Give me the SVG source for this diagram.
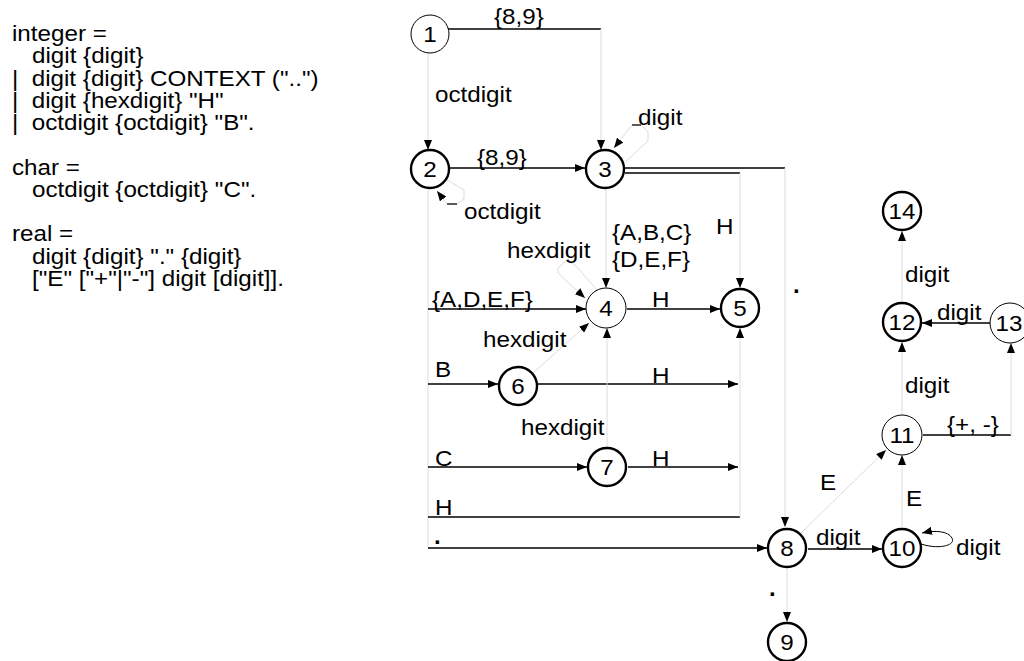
<svg xmlns="http://www.w3.org/2000/svg" width="1024" height="661" viewBox="0 0 1024 661">
<style>
text { font-family: "Liberation Sans", Arial, sans-serif; font-size: 22px; fill: #000; }
.c { text-anchor: middle; }
.dot { font-weight: bold; font-size: 24px; }
.n { fill: #fff; stroke: #000; stroke-width: 1; }
.k { stroke-width: 2.4; }
.d { fill: none; stroke: #000; stroke-width: 1.3; }
.l { fill: none; stroke: #dcdcdc; stroke-width: 1; }
.a { marker-end: url(#ah); }
</style>
<defs>
<marker id="ah" markerUnits="userSpaceOnUse" markerWidth="10" markerHeight="8" refX="10" refY="4" orient="auto">
<path d="M0,0 L10,4 L0,8 z" fill="#000"/>
</marker>
</defs>
<rect width="1024" height="661" fill="#fff"/>
<g id="grammar">
<text transform="translate(12,41) scale(1.1,1)">integer =</text>
<text transform="translate(32,63) scale(1.1,1)">digit {digit}</text>
<text xml:space="preserve" transform="translate(12,86) scale(1.1,1)">|  digit {digit} CONTEXT ("..")</text>
<text xml:space="preserve" transform="translate(12,108) scale(1.1,1)">|  digit {hexdigit} "H"</text>
<text xml:space="preserve" transform="translate(12,130) scale(1.1,1)">|  octdigit {octdigit} "B".</text>
<text transform="translate(12,175) scale(1.1,1)">char =</text>
<text transform="translate(32,197) scale(1.1,1)">octdigit {octdigit} "C".</text>
<text transform="translate(12,241) scale(1.1,1)">real =</text>
<text transform="translate(32,264) scale(1.1,1)">digit {digit} "." {digit}</text>
<text transform="translate(32,286) scale(1.1,1)">["E" ["+"|"-"] digit [digit]].</text>
</g>
<g id="connectors">
<path class="d" d="M448,29 H601"/>
<path class="l a" d="M601,29 V150"/>
<path class="l a" d="M428,53 V150"/>
<path class="d a" d="M450,168 H585"/>
<path class="l" d="M447,180 L464,190 V199 L457,204"/>
<path class="d" d="M457,204 H447"/>
<path class="l a" d="M447,204 L437,191"/>
<path class="l" d="M624,163 L648,141 V132 L641,125"/>
<path class="d" d="M641,125 H632"/>
<path class="l a" d="M632,125 L614,148"/>
<path class="d" d="M625,168 H785"/>
<path class="l a" d="M785,168 V527"/>
<path class="d" d="M625,173 H740"/>
<path class="l a" d="M740,173 V288"/>
<path class="l a" d="M606,189 V288"/>
<path class="l" d="M428,189 V548"/>
<path class="d a" d="M428,309 H586"/>
<path class="d a" d="M627,309 H720"/>
<path class="l a" d="M599,292 L575,265 L567,260 L558,268 V273 L585,298"/>
<path class="d a" d="M428,384 H498"/>
<path class="d a" d="M538,384 H738"/>
<path class="l a" d="M533,373 L589,323"/>
<path class="d a" d="M428,467 H587"/>
<path class="d a" d="M628,467 H738"/>
<path class="l a" d="M607,447 V328"/>
<path class="d" d="M428,517 H740"/>
<path class="l a" d="M740,517 V328"/>
<path class="d a" d="M428,548 H767"/>
<path class="d a" d="M808,549 H882"/>
<path class="l a" d="M787,569 V622"/>
<path class="l a" d="M801,533 L886,450"/>
<path class="l a" d="M902,527 V455"/>
<path class="d a" style="stroke-width:1" d="M921,544 C940,550 956,545 952,538 C948,531 935,530 922,533"/>
<path class="d" d="M923,435 H1011"/>
<path class="l a" d="M1011,435 V343"/>
<path class="l a" d="M902,414 V342"/>
<path class="d a" d="M991,323 H922"/>
<path class="l a" d="M902,301 V231"/>
</g>
<g id="edge-labels">
<text transform="translate(494,24) scale(1.1,1)">{8,9}</text>
<text transform="translate(435,102) scale(1.1,1)">octdigit</text>
<text transform="translate(477,165) scale(1.1,1)">{8,9}</text>
<text transform="translate(638,125) scale(1.1,1)">digit</text>
<text transform="translate(464,219) scale(1.1,1)">octdigit</text>
<text transform="translate(612,240) scale(1.1,1)">{A,B,C}</text>
<text transform="translate(612,267) scale(1.1,1)">{D,E,F}</text>
<text transform="translate(716,234) scale(1.1,1)">H</text>
<text transform="translate(507,258) scale(1.1,1)">hexdigit</text>
<text transform="translate(432,307) scale(1.1,1)">{A,D,E,F}</text>
<text transform="translate(652,307) scale(1.1,1)">H</text>
<text transform="translate(483,347) scale(1.1,1)">hexdigit</text>
<text transform="translate(435,377) scale(1.1,1)">B</text>
<text transform="translate(652,383) scale(1.1,1)">H</text>
<text transform="translate(521,435) scale(1.1,1)">hexdigit</text>
<text transform="translate(435,466) scale(1.1,1)">C</text>
<text transform="translate(652,466) scale(1.1,1)">H</text>
<text transform="translate(435,515) scale(1.1,1)">H</text>
<text class="dot" transform="translate(434,544)">.</text>
<text class="dot" transform="translate(793,293)">.</text>
<text transform="translate(816,545) scale(1.1,1)">digit</text>
<text transform="translate(820,490) scale(1.1,1)">E</text>
<text transform="translate(906,506) scale(1.1,1)">E</text>
<text class="dot" transform="translate(769,596)">.</text>
<text transform="translate(956,555) scale(1.1,1)">digit</text>
<text transform="translate(947,432) scale(1.1,1)">{+, -}</text>
<text transform="translate(905,393) scale(1.1,1)">digit</text>
<text transform="translate(905,282) scale(1.1,1)">digit</text>
<text transform="translate(937,320) scale(1.1,1)">digit</text>
</g>
<g id="node1"><circle class="n" cx="430" cy="34" r="19"/><text class="c" transform="translate(430,42) scale(1.1,1)">1</text></g>
<g id="node2"><circle class="n k" cx="430" cy="169" r="19"/><text class="c" transform="translate(430,177) scale(1.1,1)">2</text></g>
<g id="node3"><circle class="n k" cx="605" cy="169" r="19"/><text class="c" transform="translate(605,177) scale(1.1,1)">3</text></g>
<g id="node4"><circle class="n" cx="606" cy="308" r="20"/><text class="c" transform="translate(606,316) scale(1.1,1)">4</text></g>
<g id="node5"><circle class="n k" cx="740" cy="308" r="19"/><text class="c" transform="translate(740,316) scale(1.1,1)">5</text></g>
<g id="node6"><circle class="n k" cx="518" cy="386" r="19"/><text class="c" transform="translate(518,394) scale(1.1,1)">6</text></g>
<g id="node7"><circle class="n k" cx="607" cy="467" r="19"/><text class="c" transform="translate(607,475) scale(1.1,1)">7</text></g>
<g id="node8"><circle class="n k" cx="787" cy="548" r="19"/><text class="c" transform="translate(787,556) scale(1.1,1)">8</text></g>
<g id="node9"><circle class="n k" cx="787" cy="642" r="19"/><text class="c" transform="translate(787,650) scale(1.1,1)">9</text></g>
<g id="node10"><circle class="n k" cx="902" cy="548" r="19"/><text class="c" transform="translate(902,556) scale(1.1,1)">10</text></g>
<g id="node11"><circle class="n" cx="902" cy="435" r="20"/><text class="c" transform="translate(902,443) scale(1.1,1)">11</text></g>
<g id="node12"><circle class="n k" cx="902" cy="322" r="19"/><text class="c" transform="translate(902,330) scale(1.1,1)">12</text></g>
<g id="node13"><circle class="n" cx="1010" cy="323" r="20"/><text class="c" transform="translate(1009,331) scale(1.1,1)">13</text></g>
<g id="node14"><circle class="n k" cx="902" cy="211" r="19"/><text class="c" transform="translate(902,219) scale(1.1,1)">14</text></g>
</svg>
